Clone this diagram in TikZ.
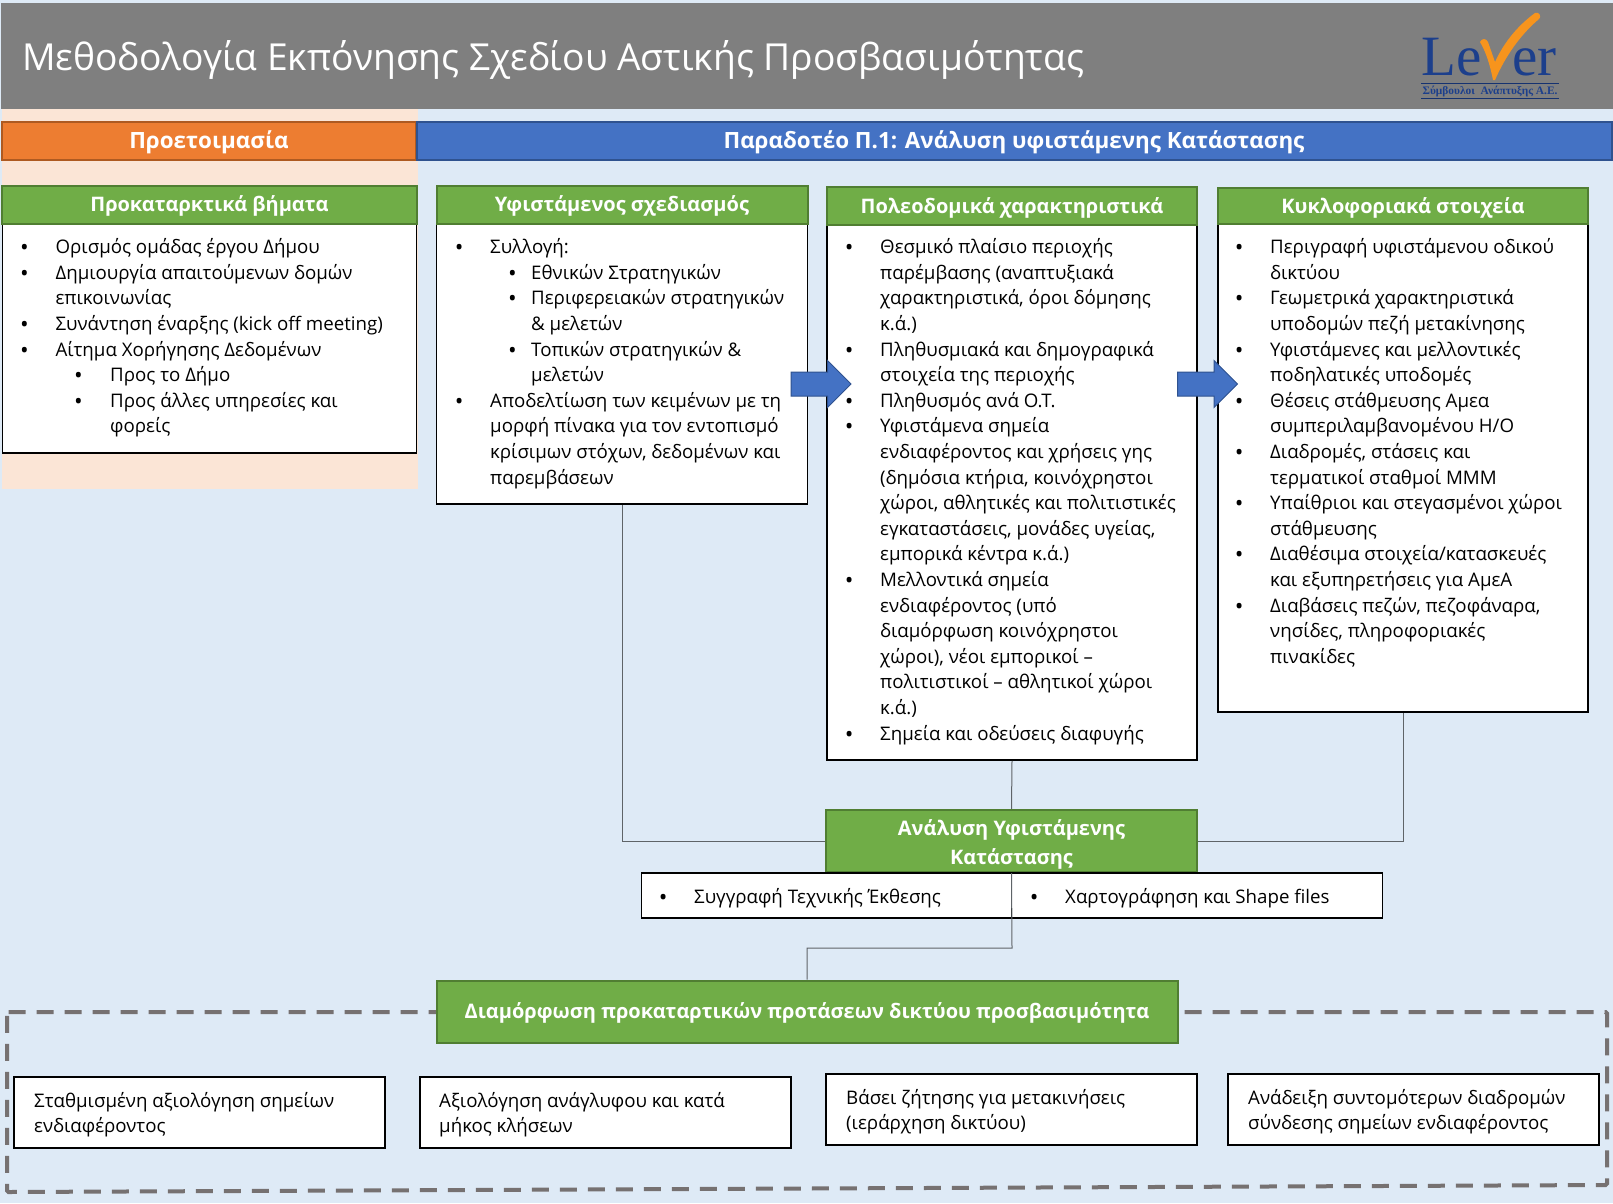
\documentclass[tikz,border=0pt]{standalone}
\usepackage{fontspec}
\setmainfont{Open Sans}
\newfontfamily\logofont{Liberation Serif}
\usetikzlibrary{shapes.arrows}
\definecolor{bgblue}{HTML}{DEEAF6}
\definecolor{bgpeach}{HTML}{FBE5D6}
\definecolor{bandgrey}{HTML}{7F7F7F}
\definecolor{dashgrey}{HTML}{767171}
\definecolor{prepfill}{HTML}{ED7D31}
\definecolor{prepline}{HTML}{AE5A21}
\definecolor{delivfill}{HTML}{4472C4}
\definecolor{delivline}{HTML}{2F528F}
\definecolor{headfill}{HTML}{70AD47}
\definecolor{headline}{HTML}{507E32}
\definecolor{linkgrey}{HTML}{5F6468}
\definecolor{logoblue}{HTML}{1C3F8C}
\definecolor{logoorange}{HTML}{F7941D}
\newcommand{\bodyfont}{\fontsize{18.7}{25.6}\selectfont}
\newcommand{\blt}{\raisebox{-2pt}{\fontsize{23}{23}\selectfont\textbullet}}
\newcommand{\li}[1]{\makebox[35.4pt][l]{\blt}#1}
\newcommand{\lc}[1]{\hspace*{35.4pt}#1}
\newcommand{\sli}[1]{\hspace*{53.4pt}\makebox[23pt][l]{\blt}#1}
\newcommand{\slc}[1]{\hspace*{76.4pt}#1}
\newcommand{\tli}[1]{\hspace*{54pt}\makebox[36pt][l]{\blt}#1}
\newcommand{\tlc}[1]{\hspace*{90pt}#1}
\begin{document}
\begin{tikzpicture}[x=1pt, y=-1pt,
	banner/.style={draw=#1, line width=2pt, inner sep=0pt, text=white, font=\fontsize{22.4}{29}\bfseries\selectfont, align=center, execute at begin node={\rule[-.3em]{0pt}{1.3em}}},
	headbox/.style={banner=headline, fill=headfill, font=\fontsize{20}{29}\bfseries\selectfont},
	bodybox/.style={draw=black, fill=white, line width=1.5pt, inner sep=0pt},
	listtext/.style={anchor=north west, inner sep=0pt, align=left, font=\bodyfont},
	link/.style={draw=linkgrey, line width=1pt},
	blockarrow/.style={single arrow, draw=delivline, fill=delivfill, line width=1pt, inner xsep=0pt, inner ysep=11.5pt, minimum height=60pt, minimum width=46pt, single arrow head extend=11.5pt, single arrow tip angle=90}]
	\useasboundingbox (0, 0) rectangle (1613, 1203);
	\fill [bgblue] (0, 0) rectangle (1613, 1203);
	\fill [bgpeach] (2, 109) rectangle (418, 489);
	\fill [bandgrey] (1, 3) rectangle (1613, 109);
	\node [anchor=west, inner sep=0pt, text=white, font=\fontsize{37.2}{46}\selectfont] (title) at (22, 60) {Μεθοδολογία Εκπόνησης Σχεδίου Αστικής Προσβασιμότητας};

	\node [inner sep=0pt, text=logoblue, font=\logofont\fontsize{57}{60}\selectfont, anchor=base west] (logoLe) at (1421, 75) {Le};
	\node [inner sep=0pt, text=logoblue, font=\logofont\fontsize{57}{60}\selectfont, anchor=base west] (logoEr) at (1512, 75) {er};
	\fill [logoorange] (1480, 42) .. controls (1482, 38) and (1486, 38) .. (1488, 42) -- (1495, 62) .. controls (1505, 40) and (1520, 24) .. (1535, 13) .. controls (1539, 11) and (1542, 17) .. (1539, 19) .. controls (1520, 35) and (1505, 57) .. (1495, 80) -- (1493, 80) .. controls (1490, 65) and (1486, 52) .. (1480, 42) -- cycle;
	\draw [logoblue!80!black, line width=.7pt] (1421, 83.5) -- (1559, 83.5) (1421, 98.5) -- (1559, 98.5);
	\node [inner sep=0pt, text=logoblue, font=\logofont\bfseries\fontsize{11.4}{12}\selectfont] (logoSub) at (1490, 91) {Σύμβουλοι\hspace{3pt} Ανάπτυξης Α.Ε.};

	\node [banner=prepline, fill=prepfill, minimum width=414pt, minimum height=38pt] (prep) at (209, 140.5) {Προετοιμασία};
	\node [banner=delivline, fill=delivfill, minimum width=1195pt, minimum height=38pt] (deliv) at (1014, 140.5) {Παραδοτέο Π.1: Ανάλυση υφιστάμενης Κατάστασης};

	\node [bodybox, minimum width=414pt, minimum height=229pt] (stepsBody) at (209.5, 338.5) {};
	\node [bodybox, minimum width=371pt, minimum height=280pt] (planBody) at (622, 364) {};
	\node [bodybox, minimum width=370pt, minimum height=535pt] (urbanBody) at (1012, 492.5) {};
	\node [bodybox, minimum width=370pt, minimum height=488pt] (trafficBody) at (1403, 468) {};
	\node [headbox, minimum width=415pt, minimum height=38pt] (stepsHead) at (209.5, 204.5) {Προκαταρκτικά βήματα};
	\node [headbox, minimum width=371pt, minimum height=38pt] (planHead) at (622, 204.5) {Υφιστάμενος σχεδιασμός};
	\node [headbox, minimum width=370pt, minimum height=38pt] (urbanHead) at (1012, 206) {Πολεοδομικά χαρακτηριστικά};
	\node [headbox, minimum width=370pt, minimum height=36pt] (trafficHead) at (1403, 206) {Κυκλοφοριακά στοιχεία};

	\node [listtext] (stepsList) at (20, 238.5) {%
		\li{Ορισμός ομάδας έργου Δήμου}\\
		\li{Δημιουργία απαιτούμενων δομών}\\
		\lc{επικοινωνίας}\\
		\li{Συνάντηση έναρξης (kick off meeting)}\\
		\li{Αίτημα Χορήγησης Δεδομένων}\\
		\tli{Προς το Δήμο}\\
		\tli{Προς άλλες υπηρεσίες και}\\
		\tlc{φορείς}};
	\node [listtext] (planList) at (454.6, 238.5) {%
		\li{Συλλογή:}\\
		\sli{Εθνικών Στρατηγικών}\\
		\sli{Περιφερειακών στρατηγικών}\\
		\slc{\& μελετών}\\
		\sli{Τοπικών στρατηγικών \&}\\
		\slc{μελετών}\\
		\li{Αποδελτίωση των κειμένων με τη}\\
		\lc{μορφή πίνακα για τον εντοπισμό}\\
		\lc{κρίσιμων στόχων, δεδομένων και}\\
		\lc{παρεμβάσεων}};
	\node [listtext] (urbanList) at (844.6, 238.5) {%
		\li{Θεσμικό πλαίσιο περιοχής}\\
		\lc{παρέμβασης (αναπτυξιακά}\\
		\lc{χαρακτηριστικά, όροι δόμησης}\\
		\lc{κ.ά.)}\\
		\li{Πληθυσμιακά και δημογραφικά}\\
		\lc{στοιχεία της περιοχής}\\
		\li{Πληθυσμός ανά Ο.Τ.}\\
		\li{Υφιστάμενα σημεία}\\
		\lc{ενδιαφέροντος και χρήσεις γης}\\
		\lc{(δημόσια κτήρια, κοινόχρηστοι}\\
		\lc{χώροι, αθλητικές και πολιτιστικές}\\
		\lc{εγκαταστάσεις, μονάδες υγείας,}\\
		\lc{εμπορικά κέντρα κ.ά.)}\\
		\li{Μελλοντικά σημεία}\\
		\lc{ενδιαφέροντος (υπό}\\
		\lc{διαμόρφωση κοινόχρηστοι}\\
		\lc{χώροι), νέοι εμπορικοί --}\\
		\lc{πολιτιστικοί -- αθλητικοί χώροι}\\
		\lc{κ.ά.)}\\
		\li{Σημεία και οδεύσεις διαφυγής}};
	\node [listtext] (trafficList) at (1234.6, 238.5) {%
		\li{Περιγραφή υφιστάμενου οδικού}\\
		\lc{δικτύου}\\
		\li{Γεωμετρικά χαρακτηριστικά}\\
		\lc{υποδομών πεζή μετακίνησης}\\
		\li{Υφιστάμενες και μελλοντικές}\\
		\lc{ποδηλατικές υποδομές}\\
		\li{Θέσεις στάθμευσης Αμεα}\\
		\lc{συμπεριλαμβανομένου Η/Ο}\\
		\li{Διαδρομές, στάσεις και}\\
		\lc{τερματικοί σταθμοί ΜΜΜ}\\
		\li{Υπαίθριοι και στεγασμένοι χώροι}\\
		\lc{στάθμευσης}\\
		\li{Διαθέσιμα στοιχεία/κατασκευές}\\
		\lc{και εξυπηρετήσεις για ΑμεΑ}\\
		\li{Διαβάσεις πεζών, πεζοφάναρα,}\\
		\lc{νησίδες, πληροφοριακές}\\
		\lc{πινακίδες}};

	\node [blockarrow] (arrowA) at (815, 384) {};
	\node [blockarrow] (arrowB) at (1201.5, 384) {};

	\draw [dashgrey, line width=4pt, dash pattern=on 17pt off 11pt, rounded corners=1.5pt] (7, 1012) -- (1607, 1012) -- (1607, 1185) -- (7, 1192) -- cycle;

	\node [headbox, minimum width=371pt, minimum height=62pt] (analysis) at (1011.5, 841) {\rule{0pt}{1.2em}Ανάλυση Υφιστάμενης\\Κατάστασης};
	\node [bodybox, minimum width=370pt, minimum height=45pt] (reportBox) at (826.5, 895.5) {};
	\node [bodybox, minimum width=371pt, minimum height=45pt] (mapsBox) at (1197, 895.5) {};
	\node [listtext, anchor=west] (reportText) at (658.6, 898) {\li{Συγγραφή Τεχνικής Έκθεσης}};
	\node [listtext, anchor=west] (mapsText) at (1029.6, 898) {\li{Χαρτογράφηση και Shape files}};
	\node [headbox, minimum width=741pt, minimum height=62pt] (proposal) at (807, 1011.5) {Διαμόρφωση προκαταρτικών προτάσεων δικτύου προσβασιμότητα};

	\draw [link] (planBody.south) |- (analysis.west);
	\draw [link] (trafficBody.south) |- (analysis.east);
	\draw [link] (urbanBody.south) -- (analysis.north);
	\coordinate (turn) at (1012, 948);
	\draw [link] (analysis.south) -- (turn) -| (proposal.north);

	\node [bodybox, minimum width=371pt, minimum height=71pt] (weighBox) at (199.5, 1112.5) {};
	\node [bodybox, minimum width=371pt, minimum height=71pt] (reliefBox) at (605.5, 1112.5) {};
	\node [bodybox, minimum width=371pt, minimum height=71pt] (demandBox) at (1011.5, 1109.5) {};
	\node [bodybox, minimum width=371pt, minimum height=71pt] (shortBox) at (1413.5, 1109.5) {};
	\node [listtext, anchor=west] (weighText) at (34, 1114.5) {Σταθμισμένη αξιολόγηση σημείων\\ενδιαφέροντος};
	\node [listtext, anchor=west] (reliefText) at (439, 1114.5) {Αξιολόγηση ανάγλυφου και κατά\\μήκος κλήσεων};
	\node [listtext, anchor=west] (demandText) at (846, 1111.5) {Βάσει ζήτησης για μετακινήσεις\\(ιεράρχηση δικτύου)};
	\node [listtext, anchor=west] (shortText) at (1248, 1111.5) {Ανάδειξη συντομότερων διαδρομών\\σύνδεσης σημείων ενδιαφέροντος};
\end{tikzpicture}
\end{document}
